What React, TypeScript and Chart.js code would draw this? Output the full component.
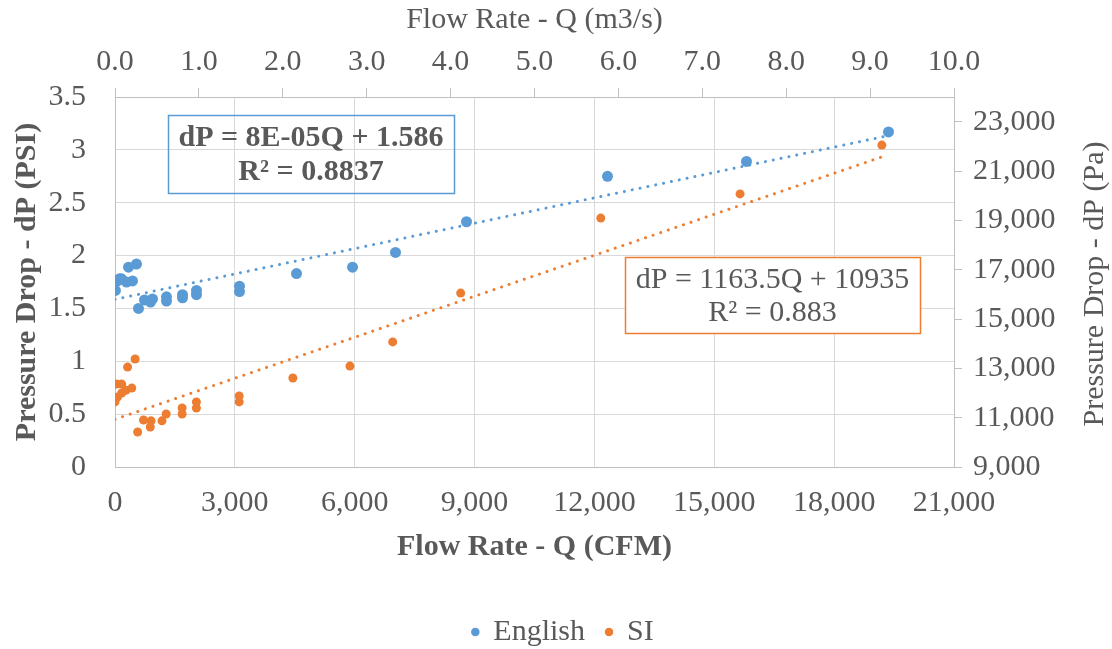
import React, { useEffect, useRef } from 'react';
import { Chart, registerables } from 'chart.js';

Chart.register(...registerables);

// English series: flow rate (CFM) vs pressure drop (PSI)
const englishCFM = [10, 63, 113, 163, 288, 438, 338, 538, 588, 738, 889, 939, 1289, 1289, 1690, 1690, 2040, 2040, 3116, 3116, 4543, 5945, 7021, 8798, 12327, 15806, 19361];
const englishPSI = [1.67, 1.76, 1.78, 1.78, 1.75, 1.76, 1.89, 1.92, 1.50, 1.58, 1.56, 1.59, 1.61, 1.57, 1.63, 1.60, 1.67, 1.63, 1.71, 1.66, 1.83, 1.89, 2.03, 2.32, 2.75, 2.89, 3.17];

// SI series: flow rate (m3/s) vs pressure drop (Pa)
const siFlow = [0.0, 0.03, 0.08, 0.13, 0.20, 0.02, 0.08, 0.15, 0.24, 0.27, 0.34, 0.43, 0.42, 0.56, 0.61, 0.80, 0.80, 0.97, 0.97, 1.48, 1.48, 2.12, 2.80, 3.31, 4.12, 5.79, 7.45, 9.14];
const siPa = [11640, 11840, 12000, 12110, 12200, 12360, 12360, 13050, 13380, 10420, 10905, 10870, 10620, 10870, 11150, 11150, 11390, 11390, 11640, 11640, 11880, 12610, 13090, 14070, 16050, 19090, 20070, 22050];

const englishTrendCFM = [0, 19361];
const englishTrendPSI = [1.586, 3.135];
const siTrendFlow = [0, 9.14];
const siTrendPa = [10935, 21570];

// Tick values
const cfmTicks = [0, 3000, 6000, 9000, 12000, 15000, 18000, 21000];
const m3sTicks = [0, 1, 2, 3, 4, 5, 6, 7, 8, 9, 10];
const psiTicks = [0, 0.5, 1, 1.5, 2, 2.5, 3, 3.5];
const paTicks = [9000, 11000, 13000, 15000, 17000, 19000, 21000, 23000];

const englishEq = 'dP = 8E-05Q + 1.586';
const englishR2 = 'R² = 0.8837';
const siEq = 'dP = 1163.5Q + 10935';
const siR2 = 'R² = 0.883';

const BLUE = '#5B9BD5';
const ORANGE = '#ED7D31';
const TEXT = '#595959';
const GRID = '#D9D9D9';
const AXIS = '#BFBFBF';
const FAMILY = '"Liberation Serif", "Times New Roman", serif';

const fmt = (v: number) => String(Math.round(v)).replace(/\B(?=(\d{3})+(?!\d))/g, ',');
const zip = (xs: number[], ys: number[]) => xs.map((x, i) => ({ x, y: ys[i] }));
const setTicks = (vals: number[]) => (s: any) => {
  s.ticks = vals.map((value) => ({ value }));
};

const tickFont = { family: FAMILY, size: 30, lineHeight: 1.2 };

const overlayPlugin = {
  id: 'overlayTexts',
  afterDatasetsDraw(chart: any) {
    const ctx = chart.ctx as CanvasRenderingContext2D;
    ctx.save();
    ctx.textAlign = 'center';
    ctx.textBaseline = 'middle';
    // English trendline label
    ctx.strokeStyle = BLUE;
    ctx.lineWidth = 1.5;
    ctx.strokeRect(168.5, 115.5, 286, 78);
    ctx.fillStyle = TEXT;
    ctx.font = `bold 30px ${FAMILY}`;
    ctx.fillText(englishEq, 311, 138);
    ctx.fillText(englishR2, 311, 172);
    // SI trendline label
    ctx.fillStyle = '#FFFFFF';
    ctx.fillRect(625, 257, 295, 76);
    ctx.strokeStyle = ORANGE;
    ctx.strokeRect(625.5, 257.5, 295, 76);
    ctx.fillStyle = TEXT;
    ctx.font = `30px ${FAMILY}`;
    ctx.fillText(siEq, 772.5, 280);
    ctx.fillText(siR2, 772.5, 313);
    // Right axis title (reads bottom to top)
    ctx.translate(1095, 284);
    ctx.rotate(-Math.PI / 2);
    ctx.fillText('Pressure Drop - dP (Pa)', 0, 0);
    ctx.restore();
  },
};

export default function App() {
  const ref = useRef<HTMLCanvasElement | null>(null);

  useEffect(() => {
    if (!ref.current) return;
    const chart = new Chart(ref.current, {
      type: 'scatter',
      data: {
        datasets: [
          {
            label: 'English',
            data: zip(englishCFM, englishPSI),
            xAxisID: 'x',
            yAxisID: 'y',
            backgroundColor: BLUE,
            borderColor: BLUE,
            borderWidth: 0,
            pointRadius: 5.5,
            order: 2,
          },
          {
            label: 'SI',
            data: zip(siFlow, siPa),
            xAxisID: 'x2',
            yAxisID: 'y2',
            backgroundColor: ORANGE,
            borderColor: ORANGE,
            borderWidth: 0,
            pointRadius: 4.5,
            order: 2,
          },
          {
            label: 'English trend',
            data: zip(englishTrendCFM, englishTrendPSI),
            xAxisID: 'x',
            yAxisID: 'y',
            showLine: true,
            borderColor: BLUE,
            backgroundColor: BLUE,
            borderWidth: 3,
            borderDash: [0.01, 8],
            borderCapStyle: 'round',
            pointRadius: 0,
            order: 1,
          } as any,
          {
            label: 'SI trend',
            data: zip(siTrendFlow, siTrendPa),
            xAxisID: 'x2',
            yAxisID: 'y2',
            showLine: true,
            borderColor: ORANGE,
            backgroundColor: ORANGE,
            borderWidth: 3,
            borderDash: [0.01, 8],
            borderCapStyle: 'round',
            pointRadius: 0,
            order: 1,
          } as any,
        ],
      },
      options: {
        responsive: false,
        maintainAspectRatio: false,
        animation: false,
        devicePixelRatio: 1,
        events: [],
        layout: { padding: { left: 14, right: 0, top: 0, bottom: -8 } },
        plugins: {
          tooltip: { enabled: false },
          legend: {
            display: true,
            position: 'bottom',
            labels: {
              filter: (item: any) => item.text === 'English' || item.text === 'SI',
              sort: (a: any, b: any) => a.datasetIndex - b.datasetIndex,
              usePointStyle: true,
              pointStyle: 'circle',
              boxWidth: 6,
              boxHeight: 6,
              padding: 21,
              color: TEXT,
              font: { family: FAMILY, size: 30, lineHeight: 1.2 },
            },
          },
        },
        scales: {
          x: {
            type: 'linear',
            position: 'bottom',
            min: 0,
            max: 21000,
            afterBuildTicks: setTicks(cfmTicks),
            afterFit: (s: any) => { s.height = 129; },
            ticks: {
              callback: (v: any) => fmt(Number(v)),
              color: TEXT,
              font: tickFont,
              padding: 18,
              maxRotation: 0,
              minRotation: 0,
              autoSkip: false,
            },
            grid: { color: GRID, lineWidth: 1, drawTicks: false },
            border: { color: AXIS, width: 1 },
            title: {
              display: true,
              text: 'Flow Rate - Q (CFM)',
              color: TEXT,
              font: { family: FAMILY, size: 30, weight: 'bold', lineHeight: 1.2 },
              padding: { top: 0, bottom: 31 },
            },
          },
          x2: {
            type: 'linear',
            position: 'top',
            min: 0,
            max: 10,
            afterBuildTicks: setTicks(m3sTicks),
            afterFit: (s: any) => { s.height = 97; },
            ticks: {
              callback: (v: any) => Number(v).toFixed(1),
              color: TEXT,
              font: tickFont,
              padding: 8,
              maxRotation: 0,
              minRotation: 0,
              autoSkip: false,
            },
            grid: { drawOnChartArea: false, drawTicks: true, tickLength: 9, color: AXIS, lineWidth: 1 },
            border: { color: AXIS, width: 1 },
            title: {
              display: true,
              text: 'Flow Rate - Q (m3/s)',
              color: TEXT,
              font: { family: FAMILY, size: 30, weight: 'normal', lineHeight: 1.2 },
              padding: { top: 2, bottom: 0 },
            },
          },
          y: {
            type: 'linear',
            position: 'left',
            min: 0,
            max: 3.5,
            afterBuildTicks: setTicks(psiTicks),
            afterFit: (s: any) => { s.width = 101; },
            ticks: {
              callback: (v: any) => String(v),
              color: TEXT,
              font: tickFont,
              padding: 29,
              autoSkip: false,
            },
            grid: { color: GRID, lineWidth: 1, drawTicks: false },
            border: { color: AXIS, width: 1 },
            title: {
              display: true,
              text: 'Pressure Drop - dP (PSI)',
              color: TEXT,
              font: { family: FAMILY, size: 30, weight: 'bold', lineHeight: 1.2 },
              padding: { top: -5, bottom: 0 },
            },
          },
          y2: {
            type: 'linear',
            position: 'right',
            min: 9000,
            max: 24000,
            afterBuildTicks: setTicks(paTicks),
            afterFit: (s: any) => { s.width = 158; },
            ticks: {
              callback: (v: any) => fmt(Number(v)),
              color: TEXT,
              font: tickFont,
              padding: 11,
              autoSkip: false,
            },
            grid: { drawOnChartArea: false, drawTicks: true, tickLength: 8, color: AXIS, lineWidth: 1 },
            border: { color: AXIS, width: 1 },
            title: { display: false },
          },
        },
      } as any,
      plugins: [overlayPlugin],
    });
    return () => chart.destroy();
  }, []);

  return (
    <div style={{ position: 'absolute', left: 0, top: 0, width: 1112, height: 649, background: '#FFFFFF' }}>
      <canvas ref={ref} width={1112} height={649} style={{ display: 'block' }} />
    </div>
  );
}
